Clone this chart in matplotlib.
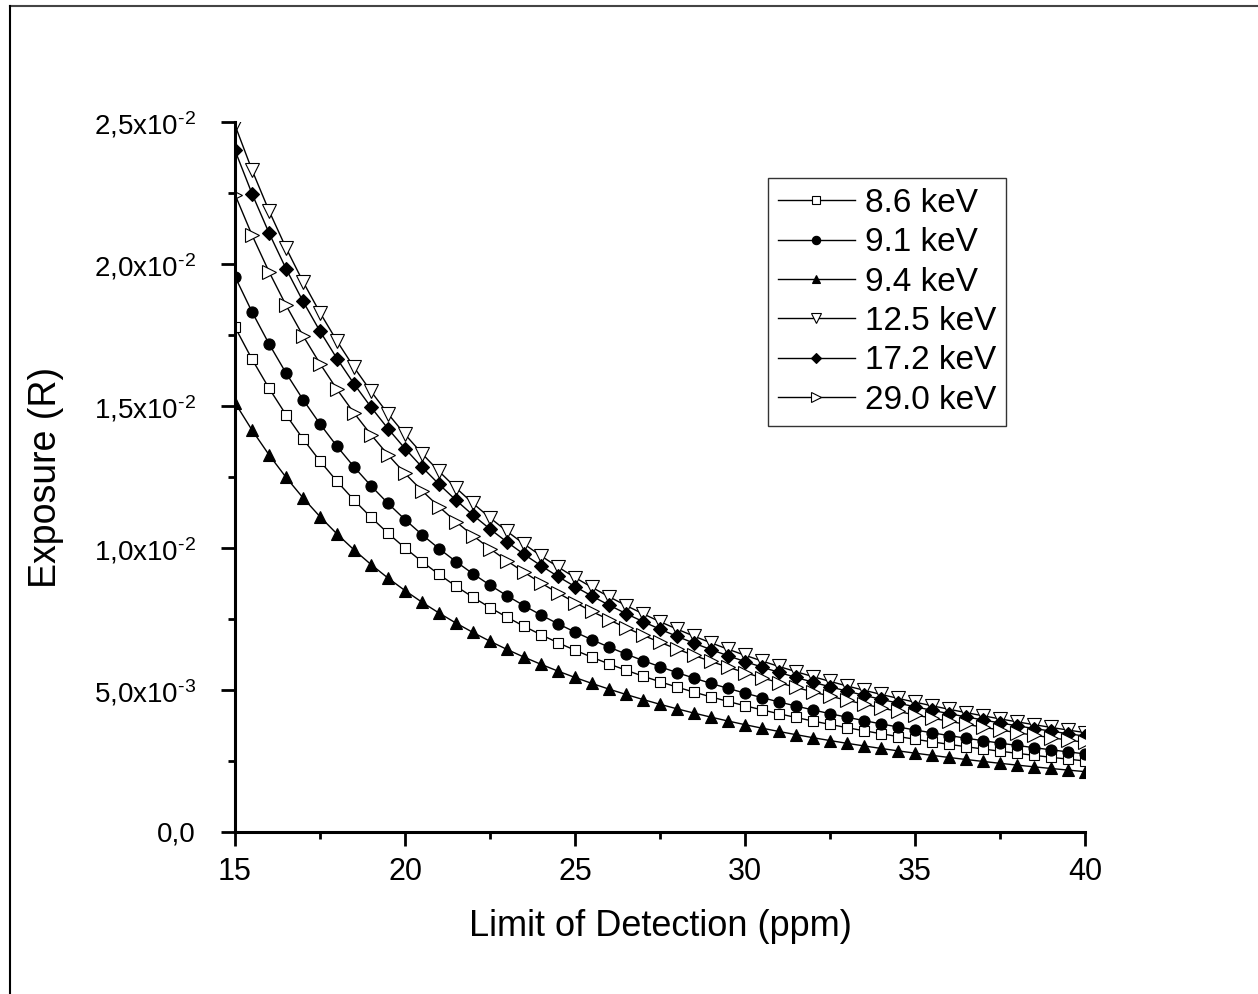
import numpy as np
import matplotlib
matplotlib.use("Agg")
import matplotlib.pyplot as plt
from matplotlib.ticker import MultipleLocator, FuncFormatter
from matplotlib.lines import Line2D

plt.rcParams['font.family'] = ['Liberation Sans', 'DejaVu Sans']
plt.rcParams['mathtext.fontset'] = 'custom'
plt.rcParams['mathtext.rm'] = 'Liberation Sans'
plt.rcParams['mathtext.default'] = 'regular'

# limit of detection (ppm)
lod = [15.0, 15.5, 16.0, 16.5, 17.0, 17.5, 18.0, 18.5, 19.0, 19.5,
       20.0, 20.5, 21.0, 21.5, 22.0, 22.5, 23.0, 23.5, 24.0, 24.5,
       25.0, 25.5, 26.0, 26.5, 27.0, 27.5, 28.0, 28.5, 29.0, 29.5,
       30.0, 30.5, 31.0, 31.5, 32.0, 32.5, 33.0, 33.5, 34.0, 34.5,
       35.0, 35.5, 36.0, 36.5, 37.0, 37.5, 38.0, 38.5, 39.0, 39.5, 40.0]

# exposure in mR
exp_8_6 = [17.778, 16.649, 15.625, 14.692, 13.841, 13.061, 12.346, 11.687, 11.080, 10.519,
           10.000, 9.518, 9.070, 8.653, 8.264, 7.901, 7.562, 7.243, 6.944, 6.664,
           6.400, 6.152, 5.917, 5.696, 5.487, 5.289, 5.102, 4.924, 4.756, 4.596,
           4.444, 4.300, 4.162, 4.031, 3.906, 3.787, 3.673, 3.564, 3.460, 3.361,
           3.265, 3.174, 3.086, 3.002, 2.922, 2.844, 2.770, 2.699, 2.630, 2.564, 2.500]
exp_9_1 = [19.556, 18.314, 17.188, 16.162, 15.225, 14.367, 13.580, 12.856, 12.188, 11.571,
           11.000, 10.470, 9.977, 9.519, 9.091, 8.691, 8.318, 7.968, 7.639, 7.330,
           7.040, 6.767, 6.509, 6.266, 6.035, 5.818, 5.612, 5.417, 5.232, 5.056,
           4.889, 4.730, 4.579, 4.434, 4.297, 4.165, 4.041, 3.921, 3.806, 3.697,
           3.592, 3.491, 3.395, 3.303, 3.214, 3.129, 3.047, 2.969, 2.893, 2.820, 2.750]
exp_9_4 = [15.111, 14.152, 13.281, 12.489, 11.765, 11.102, 10.494, 9.934, 9.418, 8.941,
           8.500, 8.090, 7.710, 7.355, 7.025, 6.716, 6.427, 6.157, 5.903, 5.664,
           5.440, 5.229, 5.030, 4.842, 4.664, 4.496, 4.337, 4.186, 4.043, 3.907,
           3.778, 3.655, 3.538, 3.427, 3.320, 3.219, 3.122, 3.030, 2.941, 2.857,
           2.775, 2.698, 2.623, 2.552, 2.484, 2.418, 2.355, 2.294, 2.236, 2.179, 2.125]
exp_12_5 = [24.889, 23.309, 21.875, 20.569, 19.377, 18.286, 17.284, 16.362, 15.513, 14.727,
            14.000, 13.325, 12.699, 12.114, 11.570, 11.062, 10.586, 10.140, 9.722, 9.330,
            8.960, 8.612, 8.284, 7.974, 7.682, 7.405, 7.143, 6.894, 6.659, 6.435,
            6.222, 6.020, 5.827, 5.644, 5.469, 5.302, 5.142, 4.990, 4.845, 4.705,
            4.571, 4.444, 4.321, 4.203, 4.091, 3.982, 3.878, 3.778, 3.682, 3.589, 3.500]
exp_17_2 = [24.000, 22.476, 21.094, 19.835, 18.685, 17.633, 16.667, 15.778, 14.959, 14.201,
            13.500, 12.849, 12.245, 11.682, 11.157, 10.667, 10.208, 9.778, 9.375, 8.996,
            8.640, 8.305, 7.988, 7.690, 7.407, 7.140, 6.888, 6.648, 6.421, 6.205,
            6.000, 5.805, 5.619, 5.442, 5.274, 5.112, 4.959, 4.812, 4.672, 4.537,
            4.408, 4.285, 4.167, 4.053, 3.945, 3.840, 3.740, 3.643, 3.551, 3.461, 3.375]
exp_29_0 = [22.444, 21.020, 19.727, 18.549, 17.474, 16.490, 15.586, 14.755, 13.989, 13.281,
            12.625, 12.017, 11.451, 10.925, 10.434, 9.975, 9.547, 9.145, 8.767, 8.413,
            8.080, 7.766, 7.471, 7.191, 6.927, 6.678, 6.441, 6.217, 6.005, 5.803,
            5.611, 5.429, 5.255, 5.089, 4.932, 4.781, 4.637, 4.500, 4.369, 4.243,
            4.122, 4.007, 3.897, 3.791, 3.689, 3.591, 3.497, 3.407, 3.320, 3.237, 3.156]

labels = ['8.6 keV', '9.1 keV', '9.4 keV', '12.5 keV', '17.2 keV', '29.0 keV']
series = [exp_8_6, exp_9_1, exp_9_4, exp_12_5, exp_17_2, exp_29_0]
markers = ['s', 'o', '^', 'v', 'D', '>']
faces = ['white', 'black', 'black', 'white', 'black', 'white']
msizes = [7, 8, 8.5, 9.5, 7, 9.5]


def sci_fmt(v, pos):
    if abs(v) < 1e-12:
        return '0,0'
    e = int(np.floor(np.log10(abs(v)) + 1e-9))
    m = v / 10 ** e
    return f'{m:.1f}'.replace('.', ',') + r'x10$^{\text{' + str(e) + '}}$'


fig = plt.figure(figsize=(12.58, 9.94), dpi=100)
ax = fig.add_axes([0.1868, 0.1630, 0.6757, 0.7143])

for y, lab, mk, fc, ms in zip(series, labels, markers, faces, msizes):
    ax.plot(lod, np.array(y) * 1e-3, color='black', linewidth=1.0,
            marker=mk, markersize=ms, markerfacecolor=fc,
            markeredgecolor='black', markeredgewidth=0.8, label=lab)

ax.set_xlim(15, 40)
ax.set_ylim(0, 0.025)
ax.xaxis.set_major_locator(MultipleLocator(5))
ax.xaxis.set_minor_locator(MultipleLocator(2.5))
ax.yaxis.set_major_locator(MultipleLocator(0.005))
ax.yaxis.set_minor_locator(MultipleLocator(0.0025))
ax.yaxis.set_major_formatter(FuncFormatter(sci_fmt))

for s in ['top', 'right']:
    ax.spines[s].set_visible(False)
for s in ['left', 'bottom']:
    ax.spines[s].set_linewidth(2.2)
ax.tick_params(which='major', direction='out', length=10, width=2)
ax.tick_params(which='minor', direction='out', length=5, width=2)
ax.tick_params(axis='x', which='major', labelsize=22, pad=8)
ax.tick_params(axis='y', which='major', labelsize=20, pad=18)

ax.set_xlabel('Limit of Detection (ppm)', fontsize=26, labelpad=16)
ax.set_ylabel('Exposure (R)', fontsize=27, labelpad=22)

leg = ax.legend(loc='upper left', bbox_to_anchor=(0.627, 0.921), borderaxespad=0,
                fontsize=24, frameon=True, fancybox=False, edgecolor='black',
                handlelength=2.3, handletextpad=0.3, labelspacing=0.25,
                markerscale=0.75, borderpad=0.3)
leg.get_frame().set_linewidth(1.0)

# page border lines (top and left)
fig.add_artist(Line2D([10 / 1258, 1.0], [1 - 6 / 994, 1 - 6 / 994], color='#444444', linewidth=1.5))
fig.add_artist(Line2D([10 / 1258, 10 / 1258], [0.0, 1 - 6 / 994], color='black', linewidth=1.5))

fig.savefig('out.png', dpi=100)
